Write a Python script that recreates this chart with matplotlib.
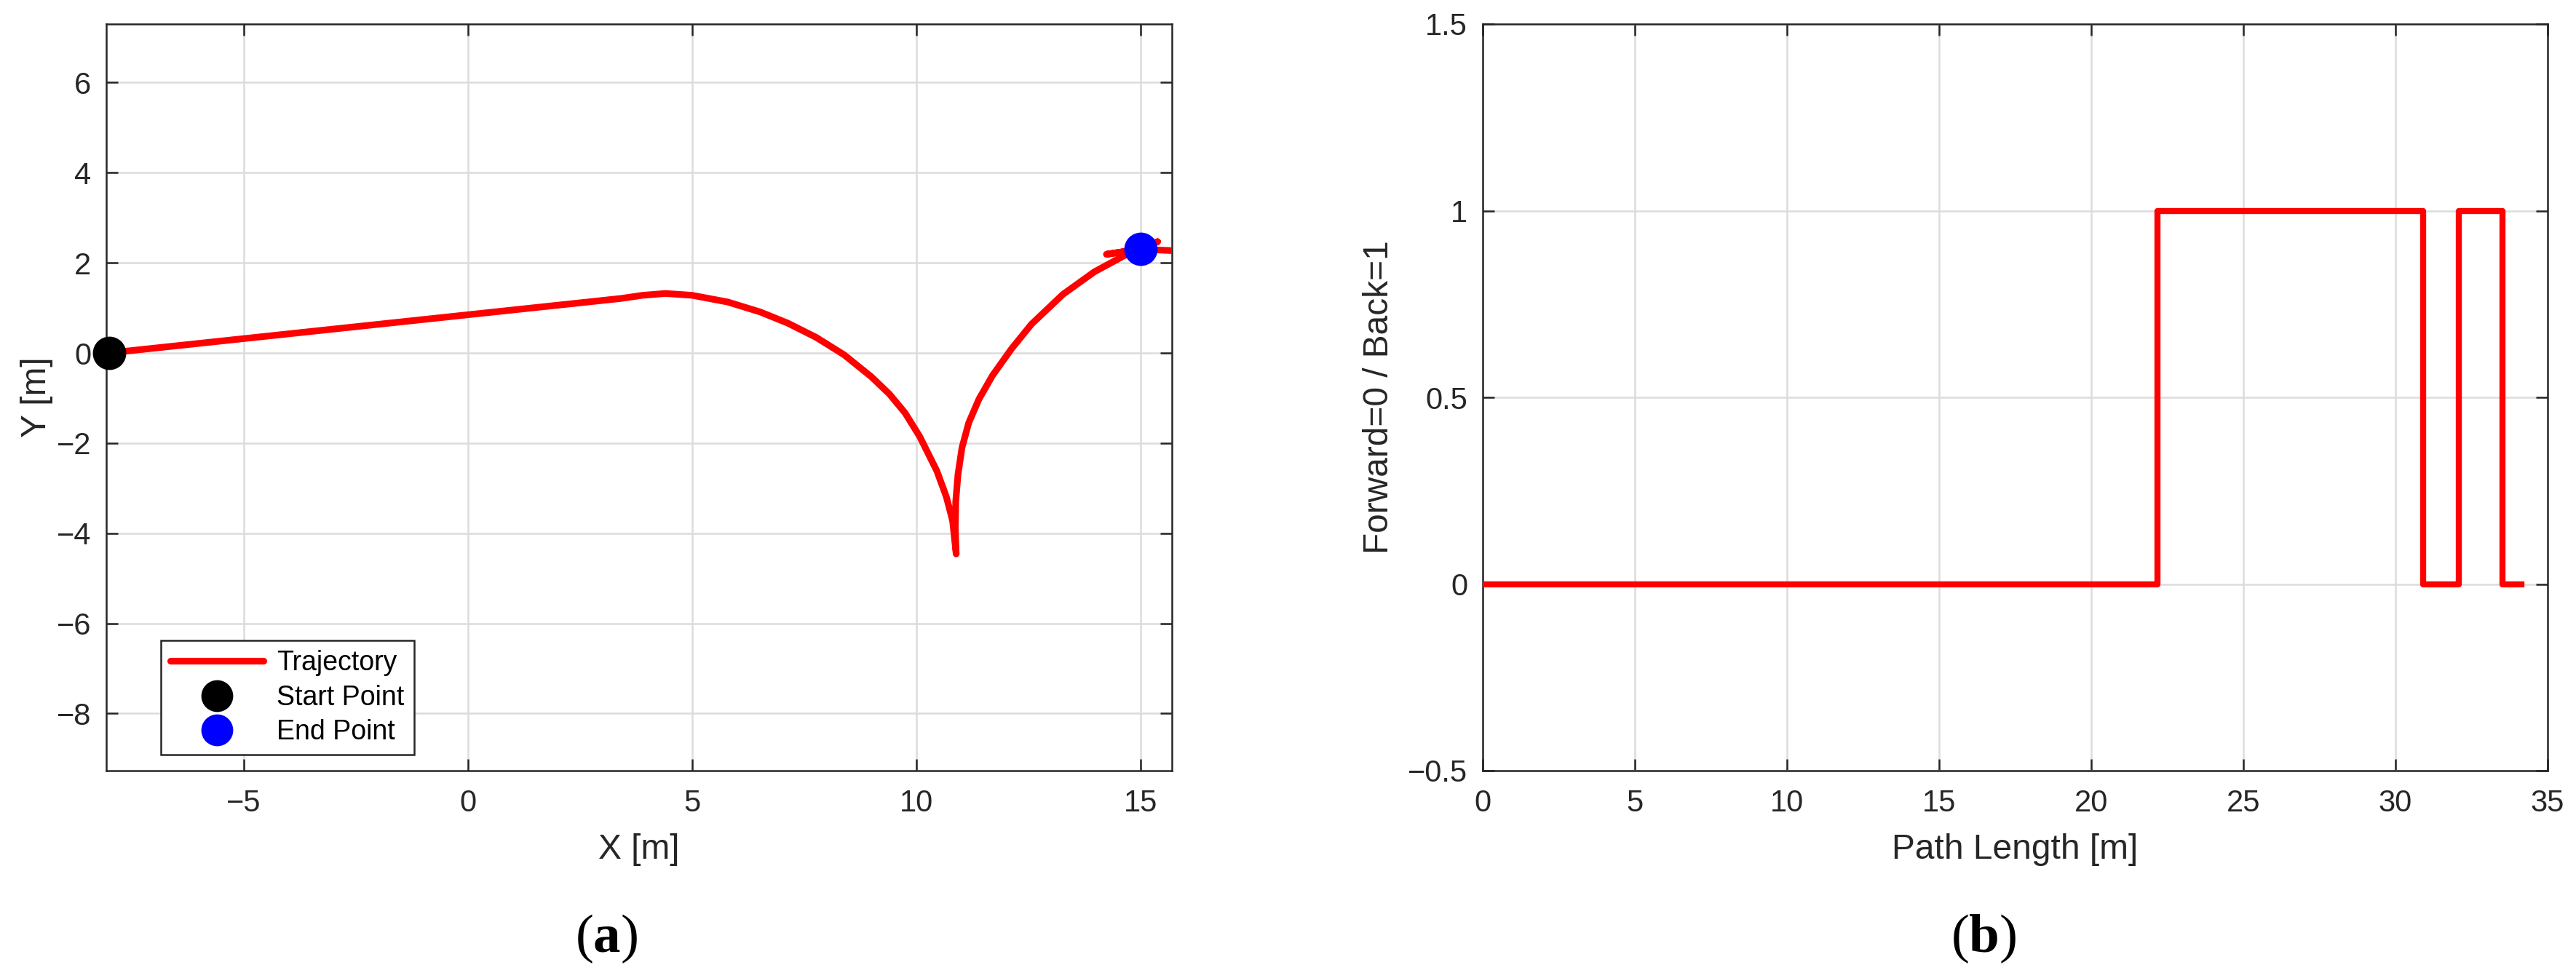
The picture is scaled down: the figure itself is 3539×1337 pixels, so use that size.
import matplotlib
matplotlib.use("Agg")
import matplotlib.pyplot as plt

# ---------------- data ----------------
traj_x = [-8.0, 3.42, 3.9, 4.41, 5.0, 5.8, 6.52, 7.14, 7.77, 8.39, 9.0, 9.4, 9.75,
          10.08, 10.46, 10.67, 10.81, 10.89,
          10.87, 10.88, 10.93, 11.02, 11.17, 11.40, 11.70, 12.13, 12.57, 13.27, 13.97, 14.62,
          15.0, 15.38, 15.0, 14.24, 15.0, 15.76]
traj_y = [0.0, 1.21, 1.28, 1.32, 1.28, 1.13, 0.91, 0.66, 0.345, -0.04, -0.53, -0.91, -1.33,
          -1.86, -2.62, -3.19, -3.72, -4.46,
          -3.90, -3.30, -2.70, -2.10, -1.55, -1.02, -0.50, 0.10, 0.64, 1.30, 1.80, 2.15,
          2.31, 2.47, 2.31, 2.19, 2.30, 2.27]
start_pt = (-8.0, 0.0)
end_pt = (15.0, 2.31)

path_len = [0.0, 22.18, 30.92, 32.07, 33.52, 34.15]
direction = [0, 1, 0, 1, 0, 0]

x_ticks_a = [-5, 0, 5, 10, 15]
y_ticks_a = [-8, -6, -4, -2, 0, 2, 4, 6]
x_ticks_b = [0, 5, 10, 15, 20, 25, 30, 35]
y_ticks_b = [-0.5, 0, 0.5, 1, 1.5]

# ---------------- style ----------------
plt.rcParams['font.family'] = ['Liberation Sans', 'DejaVu Sans']
plt.rcParams['mathtext.fontset'] = 'custom'
plt.rcParams['mathtext.rm'] = 'Liberation Serif'
plt.rcParams['mathtext.bf'] = 'Liberation Serif:bold'
TXT = '#262626'
LW = 2.2

fig = plt.figure(figsize=(3539 / 300, 1337 / 300), dpi=300)
ax1 = fig.add_axes([146 / 3539, (1337 - 1059) / 1337, 1464 / 3539, 1026 / 1337])
ax2 = fig.add_axes([2037 / 3539, (1337 - 1059) / 1337, 1463 / 3539, 1026 / 1337])


def style(ax):
    for s in ax.spines.values():
        s.set_color(TXT)
        s.set_linewidth(0.6)
    ax.tick_params(direction='in', length=3.8, width=0.6, colors=TXT,
                   labelsize=10, top=True, right=True, pad=6)
    ax.tick_params(axis='y', pad=5)
    ax.grid(True, color='#dcdcdc', linewidth=0.6)
    ax.set_axisbelow(True)


# ---------------- (a) trajectory ----------------
style(ax1)
ax1.plot(traj_x, traj_y, color='red', lw=LW, solid_capstyle='round',
         solid_joinstyle='round', label='Trajectory', zorder=3)
ax1.plot([start_pt[0]], [start_pt[1]], 'o', color='black', ms=10, clip_on=False,
         zorder=4, label='Start Point')
ax1.plot([end_pt[0]], [end_pt[1]], 'o', color='blue', ms=10, zorder=4,
         label='End Point')
ax1.set_xlim(-8.06, 15.70)
ax1.set_ylim(-9.27, 7.30)
ax1.set_xticks(x_ticks_a)
ax1.set_yticks(y_ticks_a)
ax1.set_xlabel('X [m]', fontsize=11.5, color=TXT, labelpad=5)
ax1.set_ylabel('Y [m]', fontsize=11.5, color=TXT, labelpad=1)
leg = ax1.legend(loc='lower left', bbox_to_anchor=(0.0512, 0.0214), borderaxespad=0,
                 fontsize=9, handlelength=3.4, frameon=True, fancybox=False,
                 framealpha=1, edgecolor=TXT, labelspacing=0.3, borderpad=0.35,
                 handletextpad=0.5, markerscale=0.95)
leg.get_frame().set_linewidth(0.6)

# ---------------- (b) direction ----------------
style(ax2)
ax2.plot(path_len, direction, drawstyle='steps-post', color='red', lw=2.0, zorder=3)
ax2.set_xlim(0, 35)
ax2.set_ylim(-0.5, 1.5)
ax2.set_xticks(x_ticks_b)
ax2.set_yticks(y_ticks_b)
ax2.set_yticklabels([f'{v:g}'.replace('-', '\u2212') for v in y_ticks_b])
ax2.set_xlabel('Path Length [m]', fontsize=11.5, color=TXT, labelpad=5)
ax2.set_ylabel('Forward=0 / Back=1', fontsize=11.5, color=TXT, labelpad=4)

# ---------------- captions ----------------
fig.text(833 / 3539, (1337 - 1290) / 1337, r'($\mathbf{a}$)', family='Liberation Serif',
         fontsize=18, ha='center', va='center')
fig.text(2725 / 3539, (1337 - 1290) / 1337, r'($\mathbf{b}$)', family='Liberation Serif',
         fontsize=18, ha='center', va='center')

fig.savefig('out.png', dpi=300)
